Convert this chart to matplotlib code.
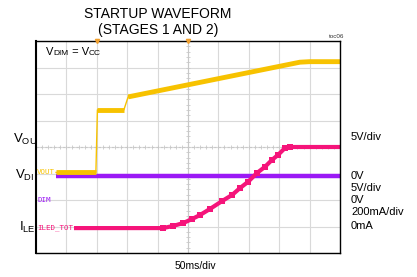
import numpy as np
import matplotlib.pyplot as plt
from matplotlib.offsetbox import TextArea, HPacker, AnchoredOffsetbox

plt.rcParams['font.family'] = ['Liberation Sans', 'DejaVu Sans']

# traces, in scope divisions (x: 10 div, y: 8 div)
vout_t = [0.66, 1.97, 2.02, 2.89, 3.03, 8.68, 9.0, 10.0]
vout_v = [3.04, 3.04, 5.40, 5.40, 5.89, 7.20, 7.22, 7.22]

dim_t = [0.66, 10.0]
dim_v = [2.90, 2.90]

iled_t = [1.25, 3.75, 4.18, 4.51, 4.84, 5.13, 5.39, 5.72, 6.12, 6.45,
          6.71, 6.97, 7.27, 7.53, 7.76, 7.96, 8.19, 8.36, 10.0]
iled_v = [0.94, 0.94, 0.94, 1.02, 1.13, 1.28, 1.43, 1.66, 1.96, 2.19,
          2.45, 2.68, 3.02, 3.25, 3.51, 3.70, 3.96, 4.00, 4.00]

right_labels = [("5V/div", 137), ("0V", 176), ("5V/div", 188),
                ("0V", 200), ("200mA/div", 212), ("0mA", 226)]

YEL = '#f7c200'
PUR = '#9b19f5'
MAG = '#f5147a'

W, H = 417, 277
fig = plt.figure(figsize=(W / 100, H / 100), dpi=100)
ax = fig.add_axes([36 / W, 1 - 253 / H, 304 / W, 212 / H])
ax.set_xlim(0, 10)
ax.set_ylim(0, 8)
ax.set_xticks(range(11))
ax.set_yticks(range(9))
ax.tick_params(length=0, labelbottom=False, labelleft=False)
ax.grid(True, color='#d9d9d9', lw=0.8)
for s in ax.spines.values():
    s.set_color('black')
    s.set_linewidth(1.0)
ax.spines['left'].set_linewidth(1.5)

# center graticule with small ticks
ax.axvline(5, color='#c8c8c8', lw=0.8)
ax.axhline(4, color='#c8c8c8', lw=0.8, ls=(0, (2, 2)))
ax.plot(np.full(41, 5.0), np.arange(0, 8.01, 0.2), ls='none', marker='_',
        ms=3, mew=0.6, color='#c8c8c8')
ax.plot(np.arange(0, 10.01, 0.2), np.full(51, 4.0), ls='none', marker='|',
        ms=3, mew=0.6, color='#c8c8c8')

# trigger markers on top edge
ax.plot([2, 5], [8, 8], ls='none', marker='v', ms=3, color='#f0a030',
        clip_on=False, zorder=5)

# traces
ax.plot(dim_t, dim_v, color=PUR, lw=3.2, solid_capstyle='butt')
ax.plot(vout_t, vout_v, color=YEL, lw=1.0)
for a, b in [(0, 2), (2, 4), (4, len(vout_t))]:
    ax.plot(vout_t[a:b], vout_v[a:b], color=YEL, lw=3.5, solid_capstyle='butt')
ax.plot(iled_t, iled_v, color=MAG, lw=3.0, solid_capstyle='butt')
ax.plot(iled_t[2:-1], iled_v[2:-1], color=MAG, ls='none', marker='s', ms=4.2,
        mew=0)

# small channel labels inside
mono = dict(fontsize=5.4, family='DejaVu Sans Mono', va='center', ha='left')
ax.text(0.04, 3.04, "VOUT", color=YEL, **mono)
ax.text(0.04, 2.0, "DIM", color=PUR, **mono)
ax.text(0.04, 0.94, "ILED_TOT", color=MAG, **mono)

# big labels on the left (cut off by the frame in the original)
fig.text(13 / W, 1 - 139 / H, r"V$_\mathregular{OU}$", fontsize=9.5, va='center')
fig.text(15 / W, 1 - 175 / H, r"V$_\mathregular{DI}$", fontsize=9.5, va='center')
fig.text(19 / W, 1 - 227 / H, r"I$_\mathregular{LE}$", fontsize=9.5, va='center')

# VDIM = VCC
parts = [("V", 8), ("DIM", 6), (" = V", 8), ("CC", 6)]
box = HPacker(children=[TextArea(t, textprops=dict(fontsize=s)) for t, s in parts],
              align="baseline", pad=0, sep=0)
ab = AnchoredOffsetbox(loc='center left', child=box, frameon=False, pad=0,
                       bbox_to_anchor=(46 / W, 1 - 52 / H),
                       bbox_transform=fig.transFigure, borderpad=0)
fig.add_artist(ab)

# right labels
for txt, yp in right_labels:
    fig.text(351 / W, 1 - yp / H, txt, fontsize=8, va='center', ha='left')

fig.text(337 / W, 1 - 37 / H, "toc06", fontsize=4.5, ha='center', va='center',
         color='#333333')
fig.text(158 / W, 1 - 14 / H, "STARTUP WAVEFORM", fontsize=10, ha='center', va='center')
fig.text(158 / W, 1 - 30 / H, "(STAGES 1 AND 2)", fontsize=10, ha='center', va='center')
fig.text(195 / W, 1 - 266 / H, "50ms/div", fontsize=7.5, ha='center', va='center')

fig.savefig("out.png", dpi=100)
